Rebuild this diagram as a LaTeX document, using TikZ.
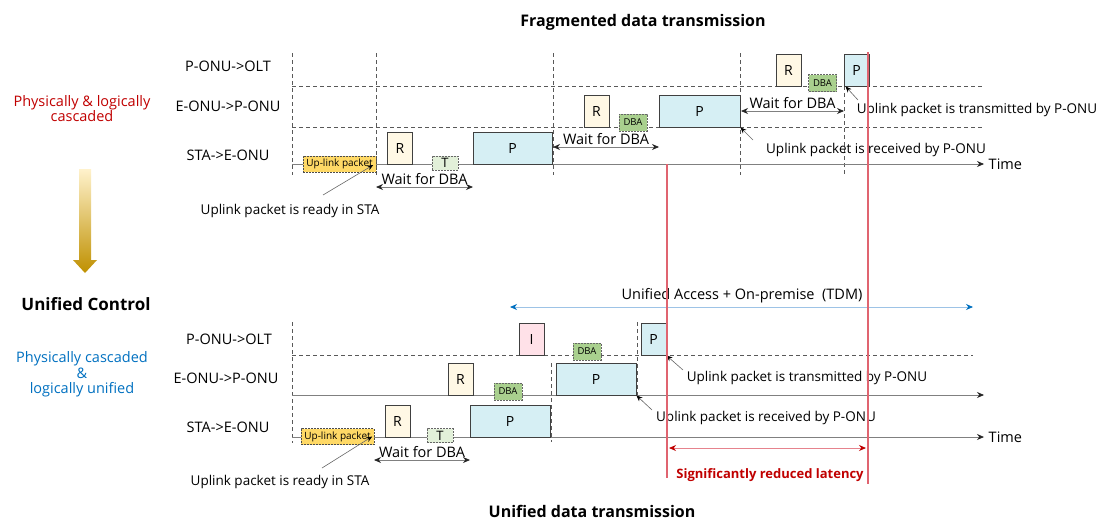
\documentclass[tikz,border=0pt]{standalone}
\usepackage{fontspec}
\setmainfont{Open Sans}
\usepackage{xcolor}
\usetikzlibrary{arrows.meta,shapes}
\definecolor{cream}{HTML}{FFF8E5}
\definecolor{paleblue}{HTML}{D6EFF4}
\definecolor{pktpink}{HTML}{FFE1E8}
\definecolor{dbagreen}{HTML}{A9D08E}
\definecolor{tgreen}{HTML}{E2F0D9}
\definecolor{upyellow}{HTML}{FFD966}
\definecolor{latred}{HTML}{E06470}
\definecolor{darkred}{HTML}{C00000}
\definecolor{ctlblue}{HTML}{0070C0}
\definecolor{tdmblue}{HTML}{9DC3E6}
\definecolor{gradtop}{HTML}{FFF2CC}
\definecolor{gradbot}{HTML}{BF9000}
\newcommand{\fs}[1]{\fontsize{#1}{#1}\selectfont}

\begin{document}
\begin{tikzpicture}[x=1pt,y=-1pt,
    every node/.style={font=\fs{13.5}},
    row/.style={font=\fs{14.5}},
    box/.style={draw=black!75, line width=0.9pt, inner sep=0pt, minimum height=32pt, font=\fs{14}},
    rbox/.style={box, fill=cream, minimum width=25pt},
    pbox/.style={box, fill=paleblue, minimum width=25pt},
    bigp/.style={pbox, minimum width=80pt},
    ibox/.style={box, fill=pktpink, minimum width=25pt},
    dbabox/.style={draw=black!60, dash pattern=on 2pt off 1pt, fill=dbagreen,
      inner sep=0pt, minimum width=28pt, minimum height=17pt, font=\fs{9.5}},
    tbox/.style={draw=black!60, dash pattern=on 2pt off 1pt, fill=tgreen,
      inner sep=0pt, minimum width=26pt, minimum height=14pt, font=\fs{13}},
    upbox/.style={draw=black!70, dash pattern=on 2pt off 1pt, fill=upyellow,
      inner sep=0pt, minimum width=73pt, minimum height=16pt, font=\fs{10}},
    grid/.style={draw=black!65, dash pattern=on 4pt off 3pt, line width=0.7pt},
    axis/.style={draw=black!50, line width=0.8pt, -{Stealth[length=7pt,width=6pt,color=black!85]}},
    wait/.style={draw=black!50, line width=0.8pt,
      {Stealth[length=7pt,width=6pt,color=black!85]}-{Stealth[length=7pt,width=6pt,color=black!85]}},
    note/.style={draw=black!60, line width=0.6pt, -{Stealth[length=6pt,width=5pt,color=black]}},
    redline/.style={draw=latred, line width=1.6pt},
    title/.style={font=\bfseries\fs{16}}]

  \useasboundingbox (0,0) rectangle (1099,520);

  %% titles and side texts
  \node[title] (toptitle) at (643,22) {Fragmented data transmission};
  \node[title] (bottitle) at (592,511) {Unified data transmission};
  \node[align=center, text=darkred, font=\fs{14.5}] (cascade) at (82,108.5) {Physically \& logically\\[1pt]cascaded};
  \node[title, font=\bfseries\fs{17}] (ctl) at (86,304) {Unified Control};
  \node[align=center, text=ctlblue, font=\fs{14.5}] (unified) at (82,374.5) {Physically cascaded\\[1pt]\&\\[1pt]logically unified};

  \shade[top color=gradtop, middle color=upyellow, bottom color=gradbot]
    (79,169) -- (91,169) -- (91,260) -- (97,260) -- (85,273) -- (73,260) -- (79,260) -- cycle;

  %% ---------------- fragmented ----------------
  \node[row] (olt1) at (228,66) {P-ONU->OLT};
  \node[row] (eonu1) at (228,106) {E-ONU->P-ONU};
  \node[row] (sta1) at (228,155) {STA->E-ONU};

  \draw[grid] (292,53) -- (292,175);
  \draw[grid] (376,53) -- (376,175);
  \draw[grid] (553,53) -- (553,175);
  \draw[grid] (740,53) -- (740,175);
  \draw[grid] (844,86) -- (844,176);
  \draw[grid] (292,86) -- (982,86);
  \draw[grid] (292,127) -- (982,127);
  \draw[axis] (292,164) -- (984,164) node[right=1pt, row] (time1) {Time};

  \node[upbox] (up1) at (339.5,164) {Up-link packet};
  \node[rbox] (r1) at (400,148) {R};
  \node[tbox] (t1) at (445,163) {T};
  \node[bigp, minimum width=79pt] (p1) at (512.5,148) {P};
  \node[rbox] (r2) at (596.5,111) {R};
  \node[dbabox] (dba1) at (633,122.5) {DBA};
  \node[bigp, minimum width=81pt] (p2) at (699.5,111) {P};
  \node[rbox] (r3) at (788.5,70) {R};
  \node[dbabox] (dba2) at (822.5,83) {DBA};
  \node[pbox] (p3) at (856.5,70) {P};

  \coordinate (w1a) at (376,187);
  \coordinate (w1b) at (473,187);
  \draw[wait] (w1a) -- node[above=-1pt, row] (w1) {Wait for DBA} (w1b);
  \coordinate (w2a) at (553,147);
  \coordinate (w2b) at (659,147);
  \draw[wait] (w2a) -- node[above=-1pt, row] (w2) {Wait for DBA} (w2b);
  \coordinate (w3a) at (741,111);
  \coordinate (w3b) at (844,111);
  \draw[wait] (w3a) -- node[above=-1pt, row] (w3) {Wait for DBA} (w3b);

  \node (rdy1) at (290,211) {Uplink packet is ready in STA};
  \coordinate (rdy1s) at (323,195);
  \draw[note] (rdy1s) -- ([xshift=-3pt,yshift=-1pt]up1.east);
  \node (rcv1) at (876,150) {Uplink packet is received by P-ONU};
  \coordinate (rcv1s) at (753,140);
  \draw[note] (rcv1s) -- (p2.south east);
  \node (tx1) at (977,110) {Uplink packet is transmitted by P-ONU};
  \coordinate (tx1s) at (858,100);
  \draw[note] (tx1s) -- ([xshift=2pt]p3.south west);

  %% ---------------- unified ----------------
  \node[row] (olt2) at (229,339) {P-ONU->OLT};
  \node[row] (eonu2) at (226,378) {E-ONU->P-ONU};
  \node[row] (sta2) at (228,427) {STA->E-ONU};

  \coordinate (tdma) at (510,307);
  \coordinate (tdmb) at (973,307);
  \draw[draw=tdmblue, line width=0.8pt,
    {Stealth[length=7pt,width=6pt,color=ctlblue]}-{Stealth[length=7pt,width=6pt,color=ctlblue]}]
    (tdma) -- (tdmb);
  \node[row] (tdm) at (742,296) {Unified Access + On-premise\ \ (TDM)};

  \draw[grid] (292,322) -- (292,443);
  \draw[grid] (551,363) -- (551,442);
  \draw[grid] (637,322) -- (637,395);
  \draw[grid] (292,355) -- (973,355);
  \draw[axis] (292,395) -- (984,395);
  \draw[axis] (292,437) -- (984,437) node[right=1pt, row] (time2) {Time};

  \node[upbox] (up2) at (337.5,436.5) {Up-link packet};
  \node[rbox] (r4) at (397.5,421) {R};
  \node[tbox] (t2) at (440,435.5) {T};
  \node[bigp] (p4) at (510,421) {P};
  \node[rbox] (r5) at (460.5,379) {R};
  \node[dbabox] (dba3) at (508,391.5) {DBA};
  \node[bigp] (p5) at (596,379) {P};
  \node[ibox] (i1) at (531.5,339) {I};
  \node[dbabox] (dba4) at (587,351.5) {DBA};
  \node[pbox] (p6) at (653.5,339) {P};

  \coordinate (w4a) at (374,460);
  \coordinate (w4b) at (470,460);
  \draw[wait] (w4a) -- node[above=-1pt, row] (w4) {Wait for DBA} (w4b);

  \node (rdy2) at (280,482) {Uplink packet is ready in STA};
  \coordinate (rdy2s) at (322,468);
  \draw[note] (rdy2s) -- ([xshift=-2pt]up2.east);
  \node (tx2) at (807,378) {Uplink packet is transmitted by P-ONU};
  \coordinate (tx2s) at (683,370);
  \draw[note] (tx2s) -- (p6.south east);
  \node (rcv2) at (766,418) {Uplink packet is received by P-ONU};
  \coordinate (rcv2s) at (652,410);
  \draw[note] (rcv2s) -- (p5.south east);

  %% latency
  \coordinate (lat1t) at (667,164);
  \coordinate (lat1b) at (667,478);
  \coordinate (lat2t) at (868,52);
  \coordinate (lat2b) at (868,484);
  \draw[redline] (lat1t) -- (lat1b);
  \draw[redline] (lat2t) -- (lat2b);
  \coordinate (lata) at (669,448);
  \coordinate (latb) at (866,448);
  \draw[draw=latred!80, line width=0.8pt,
    {Stealth[length=7pt,width=6pt,color=darkred]}-{Stealth[length=7pt,width=6pt,color=darkred]}]
    (lata) -- (latb);
  \node[font=\bfseries\fs{13}, text=darkred] (lat) at (770,475) {Significantly reduced latency};

\end{tikzpicture}
\end{document}
